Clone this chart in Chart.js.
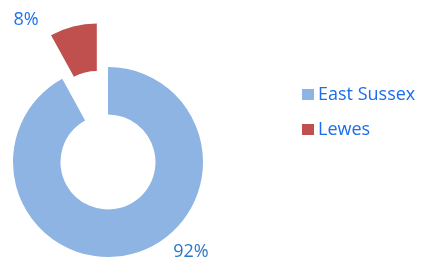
<!DOCTYPE html>
<html>
<head>
<meta charset="utf-8">
<script src="https://cdn.jsdelivr.net/npm/chart.js@4.4.1/dist/chart.umd.min.js"></script>
<style>
  html, body { margin: 0; padding: 0; background: #fff; }
  #wrap { width: 424px; height: 264px; position: relative; }
</style>
</head>
<body>
<div id="wrap"><canvas id="share-doughnut" width="424" height="264"></canvas></div>
<script>
var categories = ['East Sussex', 'Lewes'];
var shares = [92, 8];
var pctLabels = ['92%', '8%'];

var sliceColors = ['#8EB4E3', '#C0504D'];

// how far each slice is pulled out of the ring (px), along its bisector
var explode = [0, 45];

// where the % labels sit: angle clockwise from 12 o'clock, distance from centre
var labelAngle = [137.2, -30];
var labelDist = [122, 164];
var labelColor = ['#2A78C6', '#1A73F0'];

// Chart.js "offset" also grows the radius, so move the exploded arc ourselves
var explodePlugin = {
  id: 'explode',
  afterDatasetsUpdate: function(chart) {
    var arcs = chart.getDatasetMeta(0).data;
    arcs.forEach(function(arc, i) {
      if (!explode[i]) return;
      var mid = (arc.startAngle + arc.endAngle) / 2;
      arc.x += Math.cos(mid) * explode[i];
      arc.y += Math.sin(mid) * explode[i];
    });
  }
};

var pctLabelPlugin = {
  id: 'pctLabels',
  afterDatasetsDraw: function(chart) {
    var ctx = chart.ctx;
    var area = chart.chartArea;
    var cx = (area.left + area.right) / 2;
    var cy = (area.top + area.bottom) / 2;
    ctx.save();
    ctx.font = '18px "Open Sans"';
    ctx.textAlign = 'center';
    ctx.textBaseline = 'middle';
    pctLabels.forEach(function(txt, i) {
      var a = labelAngle[i] * Math.PI / 180;
      ctx.fillStyle = labelColor[i];
      ctx.fillText(txt, cx + Math.sin(a) * labelDist[i], cy - Math.cos(a) * labelDist[i]);
    });
    ctx.restore();
  }
};

var sideLegendPlugin = {
  id: 'sideLegend',
  afterDraw: function(chart) {
    var ctx = chart.ctx;
    ctx.save();
    ctx.font = '18px "Open Sans"';
    ctx.textBaseline = 'middle';
    chart.data.labels.forEach(function(lbl, i) {
      var y = 95 + i * 35;
      ctx.fillStyle = chart.data.datasets[0].backgroundColor[i];
      ctx.fillRect(302, y - 6, 12, 11);
      ctx.fillStyle = '#1A6CF0';
      ctx.fillText(lbl, 318, y);
    });
    ctx.restore();
  }
};

var ctx = document.getElementById('share-doughnut');
var myChart = new Chart(ctx, {
  type: 'doughnut',
  data: {
    labels: categories,
    datasets: [{
      data: shares,
      backgroundColor: sliceColors,
      borderWidth: 0,
      hoverOffset: 0
    }]
  },
  options: {
    responsive: false,
    animation: false,
    events: [],
    radius: 95,
    cutout: '50%',
    layout: { padding: { left: 0, right: 208, top: 60, bottom: 0 } },
    plugins: {
      legend: { display: false },
      tooltip: { enabled: false }
    }
  },
  plugins: [explodePlugin, pctLabelPlugin, sideLegendPlugin]
});
</script>
</body>
</html>
